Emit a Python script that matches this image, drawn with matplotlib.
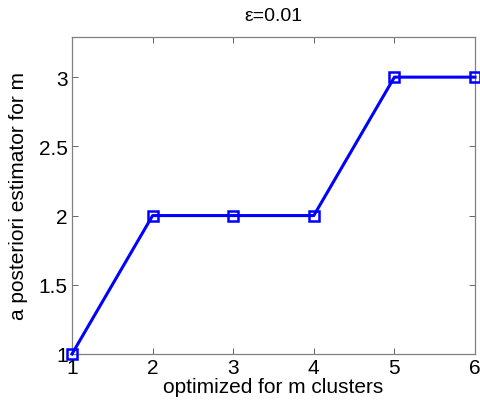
import matplotlib.pyplot as plt

plt.rcParams['font.family'] = ['Liberation Sans', 'DejaVu Sans']

# --- data ---
m_clusters = [1, 2, 3, 4, 5, 6]
m_estimate = [1, 2, 2, 2, 3, 3]
x_ticks = [1, 2, 3, 4, 5, 6]
y_ticks = [1, 1.5, 2, 2.5, 3]
y_tick_labels = ["1", "1.5", "2", "2.5", "3"]

fig = plt.figure(figsize=(4.81, 4.10), dpi=100)
ax = fig.add_axes([72 / 481, 1 - 355 / 410, (475 - 72) / 481, (355 - 38) / 410])

ax.plot(m_clusters, m_estimate, color=(0, 0, 1), linewidth=2.2,
        marker='s', markersize=6.5, markerfacecolor='none',
        markeredgecolor=(0, 0, 1), markeredgewidth=1.8, clip_on=False, zorder=3)

ax.set_xlim(1, 6)
ax.set_ylim(1, 3.29)
ax.set_xticks(x_ticks)
ax.set_yticks(y_ticks)
ax.set_yticklabels(y_tick_labels)

ax.tick_params(direction='in', length=4, width=0.7, color='#666666',
               labelsize=15, top=True, right=True, pad=3)
for sp in ax.spines.values():
    sp.set_color('#808080')
    sp.set_linewidth(0.9)

ax.set_xlabel("optimized for m clusters", fontsize=15, labelpad=0)
ax.set_ylabel("a posteriori estimator for m", fontsize=15, labelpad=8)
ax.set_title("\u03b5=0.01", fontsize=14, pad=12)

plt.savefig("out.png", dpi=100)
